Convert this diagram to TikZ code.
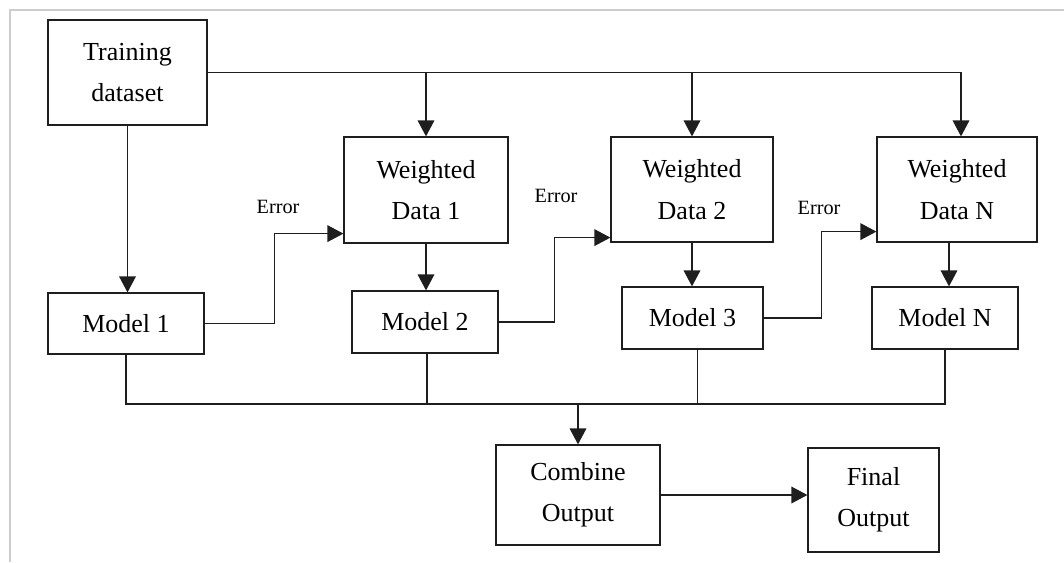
\documentclass[tikz,border=0pt]{standalone}
\usepackage{fontspec}
\setmainfont{Liberation Serif}
\usepackage{tikz}
\usetikzlibrary{positioning}
\usetikzlibrary{arrows.meta}
\tikzstyle{diagram} = [x = 0.75pt, y = -0.75pt]
\definecolor{lineColor}{RGB}{30,30,30}
\definecolor{frameColor}{RGB}{205,205,205}
\newcommand{\boxFont}{\fontsize{19.5}{31}\selectfont}
\newcommand{\errorFont}{\fontsize{15.2}{18}\selectfont}
\tikzstyle{blockStyle} = [draw=lineColor, line width=0.9pt, rectangle, align=center, inner sep=0pt, font=\boxFont]
\tikzstyle{plainLine} = [draw=lineColor, line width=0.9pt]
\tikzstyle{arrowLine} = [plainLine, -{Triangle[length=12pt, width=12.5pt]}]
\tikzstyle{errorText} = [font=\errorFont, inner sep=0pt]
\newcommand{\blockNode}[6]{\node [blockStyle, minimum width=#4*0.75pt, minimum height=#5*0.75pt] (#1) at (#2,#3) {#6};}

\begin{document}
\begin{tikzpicture}[diagram]
  \useasboundingbox (0,0) rectangle (1064,562);
  \draw [frameColor, line width=0.8pt] (10,562) -- (10,10) -- (1064,10);
  % boxes
  \blockNode{train}{127.5}{72.5}{159}{105}{Training\\dataset}
  \blockNode{wdOne}{426}{190}{164}{106}{Weighted\\Data 1}
  \blockNode{wdTwo}{692}{189.5}{162}{105}{Weighted\\Data 2}
  \blockNode{wdN}{957}{189.5}{160}{105}{Weighted\\Data N}
  \blockNode{mOne}{126}{323.5}{156}{61}{Model 1}
  \blockNode{mTwo}{425}{322}{146}{62}{Model 2}
  \blockNode{mThree}{692.5}{318}{141}{62}{Model 3}
  \blockNode{mN}{945}{318}{146}{62}{Model N}
  \blockNode{combine}{578}{495}{164}{100}{Combine\\Output}
  \blockNode{final}{873.5}{500}{131}{104}{Final\\Output}
  \coordinate (busLeft) at (125,404);
  \coordinate (busRight) at (945,404);
  % training data to every weighted set
  \draw [arrowLine] (train.east) -| ([xshift=3pt]wdN.north);
  \draw [arrowLine] (train.east -| wdOne.north) -- (wdOne.north);
  \draw [arrowLine] (train.east -| wdTwo.north) -- (wdTwo.north);
  \draw [arrowLine] (train.south) -- (train.south |- mOne.north);
  \draw [arrowLine] (wdOne.south) -- (wdOne.south |- mTwo.north);
  \draw [arrowLine] (wdTwo.south) -- (wdTwo.south |- mThree.north);
  \draw [arrowLine] ([xshift=3pt]mN.north |- wdN.south) -- ([xshift=3pt]mN.north);
  % errors
  \draw [arrowLine] (mOne.east) -- ++(70,0) |- ([yshift=7.5pt]wdOne.south west);
  \draw [arrowLine] (mTwo.east) -- ++(56,0) |- ([yshift=3.75pt]wdTwo.south west);
  \draw [arrowLine] (mThree.east) -- ++(58,0) |- ([yshift=8.25pt]wdN.south west);
  \node [errorText] (errOne) at (278,207) {Error};
  \node [errorText] (errTwo) at (556,196) {Error};
  \node [errorText] (errThree) at (819,208) {Error};
  % combine
  \draw [plainLine] (mOne.south) -- (mOne.south |- busLeft) -- (busRight) -- (mN.south);
  \draw [plainLine] ([xshift=1.5pt]mTwo.south) -- ([xshift=1.5pt]mTwo.south |- busLeft);
  \draw [plainLine] ([xshift=4pt]mThree.south) -- ([xshift=4pt]mThree.south |- busLeft);
  \draw [arrowLine] (combine.north |- busLeft) -- (combine.north);
  \draw [arrowLine] (combine.east) -- (combine.east -| final.west);
\end{tikzpicture}
\end{document}
